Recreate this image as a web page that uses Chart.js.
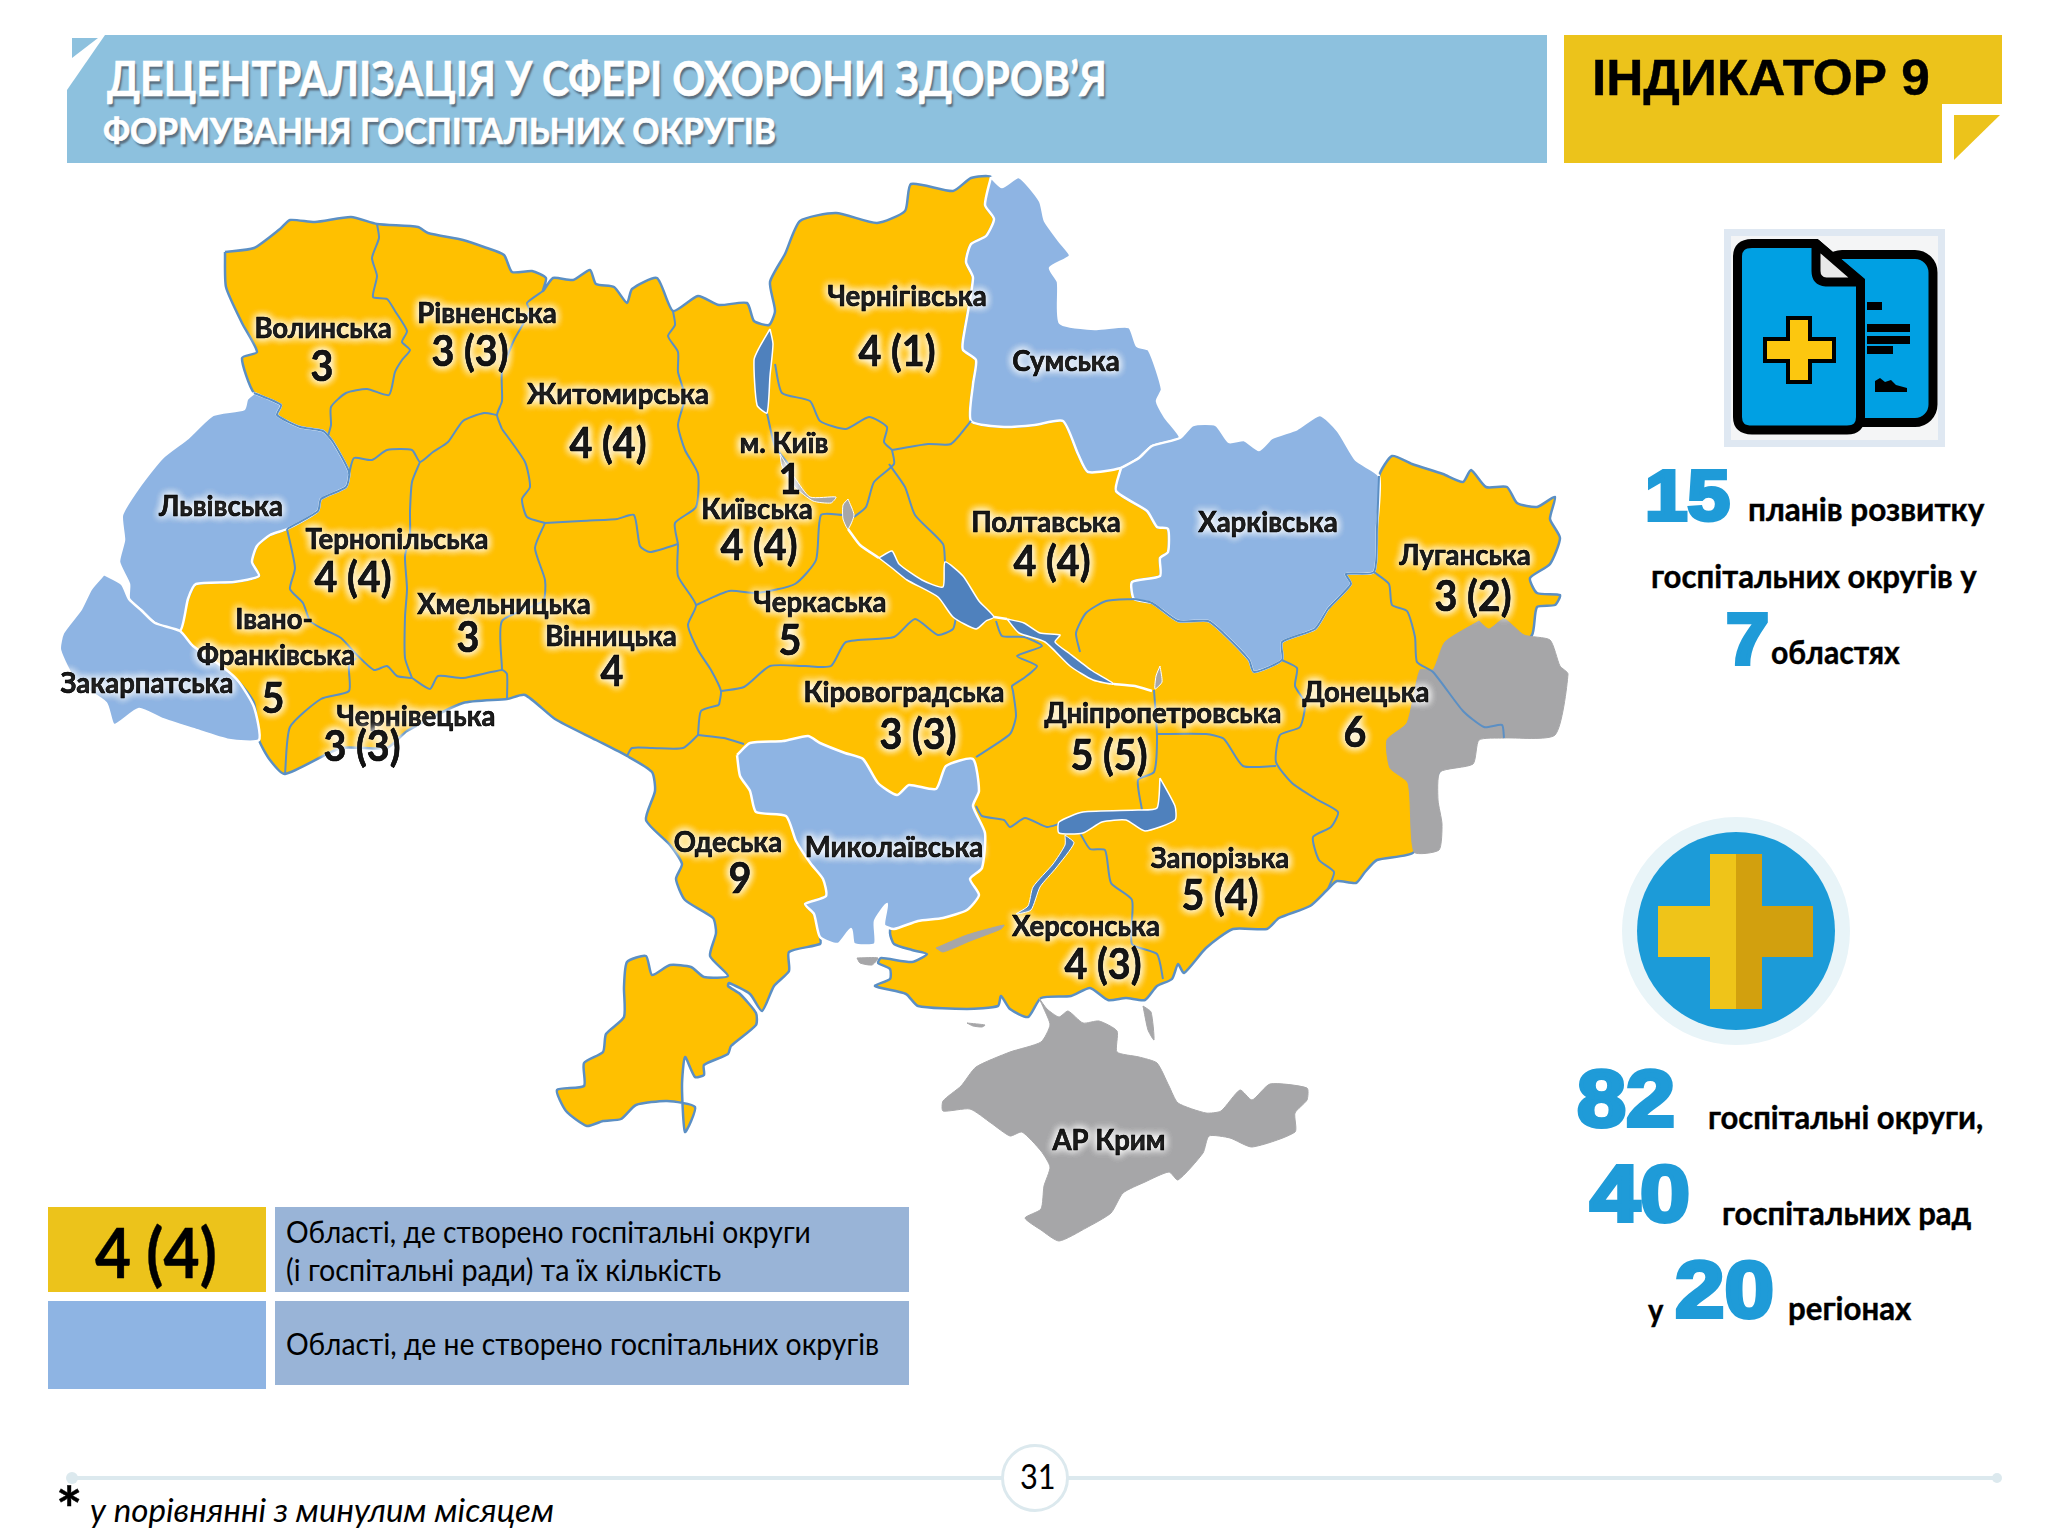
<!DOCTYPE html>
<html lang="uk">
<head>
<meta charset="utf-8">
<title>Індикатор 9</title>
<script src="https://cdn.jsdelivr.net/npm/chart.js@4"></script>
<style>
  html, body { margin: 0; padding: 0; background: #fff; }
  #page { position: relative; width: 2048px; height: 1536px; overflow: hidden; background: #fff; }
  #map { position: absolute; left: 0; top: 0; }
  .box { position: absolute; }
  .t { position: absolute; white-space: nowrap; line-height: 0; height: 0; margin-top: -2px; transform-origin: left center; font-family: Lato, "Open Sans", sans-serif; color: #000; }
  .b { font-weight: 700; -webkit-text-stroke: 0.4px #000; }
  .w { color: #fff; -webkit-text-stroke: 0.6px #fff; text-shadow: 2px 3px 2px #5a6f80; }
  .num { font-family: "Liberation Sans", sans-serif; font-weight: 700; color: #1f9bd8; -webkit-text-stroke: 4px #1f9bd8; }
</style>
</head>
<body>
<div id="page">
  <!-- header -->
  <div class="box" style="left:67px;top:35px;width:1480px;height:128px;background:#8dc1de;clip-path:polygon(38px 0,100% 0,100% 100%,0 100%,0 55px)"></div>
  <div class="box" style="left:72px;top:38px;width:26px;height:20px;background:#8dc1de;clip-path:polygon(0 0,100% 0,0 100%)"></div>
  <div class="t b w" data-w="1000" style="left:107px;top:80px;font-size:48px">ДЕЦЕНТРАЛІЗАЦІЯ У СФЕРІ ОХОРОНИ ЗДОРОВ’Я</div>
  <div class="t b w" data-w="673" style="left:103px;top:132px;font-size:37px">ФОРМУВАННЯ ГОСПІТАЛЬНИХ ОКРУГІВ</div>
  <div class="box" style="left:1564px;top:35px;width:438px;height:128px;background:#ecc31b;clip-path:polygon(0 0,100% 0,100% 54%,86.3% 54%,86.3% 100%,0 100%)"></div>
  <div class="box" style="left:1954px;top:115px;width:46px;height:45px;background:#ecc31b;clip-path:polygon(0 0,100% 0,0 100%)"></div>
  <div class="t b" data-w="338" style="left:1592px;top:80px;font-size:50px;font-family:'Liberation Sans',sans-serif">ІНДИКАТОР 9</div>

  <!-- document icon -->
  <svg class="box" style="left:1724px;top:229px" width="221" height="218" viewBox="0 0 221 218">
    <rect width="221" height="218" fill="#dfe8f2"/>
    <rect x="7" y="7" width="207" height="204" fill="#f4f5f6"/>
    <rect x="100" y="25.5" width="109" height="168" rx="18" fill="#00a0e3" stroke="#000" stroke-width="9"/>
    <path d="M143 77h15M143 99h43M143 111h43M143 121h26" stroke="#000" stroke-width="8"/>
    <path d="M151 163v-11l5-3 5 4 6-2 5 5 11 3v4z" fill="#000"/>
    <path d="M28 14.5H92L136.500 52V188Q136.500 201 123 201H28Q13.500 201 13.500 188V28Q13.500 14.500 28 14.500Z" fill="#00a0e3" stroke="#000" stroke-width="9"/>
    <path d="M92 14.500V42Q92 52 102 53H136.500L92 14.500Z" fill="#e8e8e8" stroke="#000" stroke-width="9" stroke-linejoin="round"/>
    <path d="M64 89h22v21h24v22H86v21H64v-21H41v-22h23z" fill="#fcc70f" stroke="#000" stroke-width="4"/>
  </svg>

  <!-- plans -->
  <div class="t num" data-w="85" style="left:1645px;top:498px;font-size:70px">15</div>
  <div class="t b" data-w="236" style="left:1748px;top:510px;font-size:33px">планів розвитку</div>
  <div class="t b" data-w="326" style="left:1651px;top:577px;font-size:33px">госпітальних округів у</div>
  <div class="t num" data-w="43" style="left:1726px;top:641px;font-size:72px">7</div>
  <div class="t b" data-w="129" style="left:1771px;top:653px;font-size:33px">областях</div>

  <!-- cross icon -->
  <svg class="box" style="left:1620px;top:815px" width="232" height="232" viewBox="0 0 232 232">
    <circle cx="116" cy="116" r="114" fill="#e8f4f8"/>
    <circle cx="116" cy="116" r="99" fill="#1c9bd8"/>
    <path d="M90 39h26v155H90v-52H38V91h52z" fill="#efc419"/>
    <path d="M116 39h26v52h51v51h-51v52h-26z" fill="#d2a00e"/>
  </svg>

  <!-- districts -->
  <div class="t num" data-w="98" style="left:1577px;top:1101px;font-size:80px">82</div>
  <div class="t b" data-w="275" style="left:1708px;top:1118px;font-size:33px">госпітальні округи,</div>
  <div class="t num" data-w="100" style="left:1590px;top:1196px;font-size:80px">40</div>
  <div class="t b" data-w="249" style="left:1722px;top:1214px;font-size:33px">госпітальних рад</div>
  <div class="t b" data-w="15" style="left:1648px;top:1311px;font-size:33px">у</div>
  <div class="t num" data-w="99" style="left:1675px;top:1292px;font-size:80px">20</div>
  <div class="t b" data-w="123" style="left:1788px;top:1309px;font-size:33px">регіонах</div>

  <!-- legend -->
  <div class="box" style="left:48px;top:1207px;width:218px;height:85px;background:#ecc31b"></div>
  <div class="t b" data-w="122" style="left:95px;top:1254px;font-size:68px">4 (4)</div>
  <div class="box" style="left:275px;top:1207px;width:634px;height:85px;background:#99b4d7"></div>
  <div class="t" data-w="525" style="left:286px;top:1233px;font-size:30px">Області, де створено госпітальні округи</div>
  <div class="t" data-w="435" style="left:286px;top:1271px;font-size:30px">(і госпітальні ради) та їх кількість</div>
  <div class="box" style="left:48px;top:1301px;width:218px;height:88px;background:#8eb4e3"></div>
  <div class="box" style="left:275px;top:1301px;width:634px;height:84px;background:#99b4d7"></div>
  <div class="t" data-w="593" style="left:286px;top:1345px;font-size:30px">Області, де не створено госпітальних округів</div>

  <!-- footer -->
  <div class="box" style="left:72px;top:1476px;width:1925px;height:4px;background:#dce9ee"></div>
  <div class="box" style="left:66px;top:1472px;width:12px;height:12px;border-radius:50%;background:#dce9ee"></div>
  <div class="box" style="left:1992px;top:1473px;width:10px;height:10px;border-radius:50%;background:#dce9ee"></div>
  <div class="box" style="left:1001px;top:1444px;width:62px;height:62px;border-radius:50%;background:#fff;border:3px solid #dce9ee"></div>
  <div class="t" data-w="36" style="left:1020px;top:1477px;font-size:35px">31</div>
  <div class="t b" style="left:56px;top:1510px;font-size:62px">*</div>
  <div class="t" data-w="464" style="left:90px;top:1512px;font-size:32px;font-style:italic">у порівнянні з минулим місяцем</div>

  <canvas id="map" width="2048" height="1536"></canvas>
</div>

<script>
// ── Oblast labels: names and hospital district counts (councils in brackets) ──
const nameLabels = ['Волинська', 'Рівненська', 'Житомирська', 'м. Київ', 'Київська', 'Львівська', 'Тернопільська', 'Хмельницька', 'Вінницька', 'Івано-', 'Франківська', 'Закарпатська', 'Чернівецька', 'Черкаська', 'Кіровоградська', 'Дніпропетровська', 'Чернігівська', 'Сумська', 'Полтавська', 'Харківська', 'Луганська', 'Донецька', 'Одеська', 'Миколаївська', 'Запорізька', 'Херсонська', 'АР Крим'];
const nameX = [323, 487, 618, 784, 757, 221, 397, 504, 611, 274, 276, 147, 416, 820, 904, 1163, 907, 1066, 1046, 1268, 1465, 1366, 728, 894, 1220, 1086, 1109];
const nameY = [329, 314, 395, 444, 510, 507, 540, 605, 637, 620, 656, 684, 717, 603, 693, 714, 297, 362, 523, 523, 556, 693, 843, 848, 859, 927, 1141];

const countLabels = ['3', '3 (3)', '4 (4)', '1', '4 (4)', '4 (4)', '3', '4', '5', '3 (3)', '5', '3 (3)', '5 (5)', '4 (1)', '4 (4)', '3 (2)', '6', '9', '5 (4)', '4 (3)'];
const countX = [322, 470, 608, 790, 759, 353, 468, 612, 273, 362, 790, 918, 1109, 897, 1052, 1473, 1355, 740, 1220, 1103];
const countY = [367, 352, 444, 480, 546, 578, 638, 672, 699, 747, 641, 735, 756, 352, 562, 597, 733, 879, 896, 965];

// ── Map outlines, in map units ──
const mainland = [[225,252],[254,248],[280,229],[290,220],[315,222],[351,217],[377,224],[418,227],[428,233],[463,240],[484,247],[504,255],[512,272],[532,271],[546,278],[543,291],[553,278],[573,280],[590,270],[596,284],[614,287],[627,303],[632,289],[657,278],[673,311],[698,296],[719,305],[747,303],[754,321],[769,325],[775,311],[770,282],[785,254],[800,221],[836,213],[877,223],[905,211],[911,184],[953,191],[971,178],[991,177],[985,205],[994,219],[986,236],[971,244],[966,262],[973,278],[963,340],[963,350],[976,360],[973,384],[971,421],[1004,427],[1035,425],[1063,421],[1078,454],[1088,472],[1121,468],[1116,491],[1147,511],[1157,527],[1168,529],[1168,552],[1160,558],[1160,576],[1132,582],[1134,599],[1152,603],[1178,621],[1208,621],[1223,633],[1249,660],[1254,672],[1282,660],[1282,642],[1315,629],[1328,609],[1351,584],[1346,574],[1374,572],[1377,527],[1379,476],[1392,456],[1412,464],[1443,474],[1463,482],[1471,470],[1486,487],[1507,487],[1517,503],[1537,507],[1555,497],[1550,519],[1560,538],[1550,564],[1530,578],[1537,593],[1560,595],[1555,605],[1537,607],[1532,635],[1480,700],[1425,800],[1414,852],[1377,860],[1365,872],[1356,883],[1337,881],[1328,889],[1310,906],[1279,918],[1267,929],[1233,929],[1206,948],[1184,973],[1178,964],[1172,979],[1157,986],[1145,1000],[1126,998],[1108,1000],[1090,988],[1071,996],[1041,998],[1028,1017],[1010,1009],[1001,996],[998,1006],[967,1009],[918,1006],[906,994],[875,986],[890,979],[890,969],[878,963],[881,958],[912,962],[927,954],[912,950],[894,944],[890,933],[892,870],[830,870],[826,896],[805,904],[814,914],[820,937],[820,944],[789,952],[789,971],[774,986],[762,1011],[750,994],[729,983],[728,986],[740,994],[756,1013],[756,1025],[731,1046],[728,1054],[704,1065],[704,1075],[695,1077],[685,1057],[682,1086],[685,1132],[695,1107],[667,1101],[636,1105],[621,1119],[603,1121],[587,1126],[566,1111],[557,1090],[584,1086],[584,1063],[603,1052],[606,1034],[624,1017],[624,987],[627,962],[646,956],[652,975],[670,965],[691,967],[704,977],[728,976],[710,956],[716,933],[713,918],[685,900],[676,879],[682,864],[670,845],[646,820],[655,791],[652,772],[627,756],[596,740],[555,719],[525,695],[507,699],[463,703],[407,731],[387,748],[341,748],[285,774],[270,760],[259,740],[254,703],[239,682],[219,666],[188,646],[180,629],[188,599],[196,584],[234,582],[259,576],[252,562],[257,546],[270,535],[287,529],[318,511],[321,499],[346,487],[349,472],[333,442],[323,431],[300,427],[277,415],[281,405],[254,393],[242,358],[257,352],[242,323],[226,287],[225,252]];

const lvivska = [[254,393],[281,405],[277,415],[300,427],[323,431],[333,442],[349,472],[346,487],[321,499],[318,511],[287,529],[270,535],[257,546],[252,562],[259,576],[234,582],[196,584],[188,599],[180,631],[155,623],[142,611],[129,599],[129,584],[119,562],[124,540],[122,515],[139,487],[162,458],[188,438],[213,415],[244,409],[247,399],[254,393]];
const zakarpatska = [[104,574],[122,584],[129,599],[142,611],[155,623],[180,631],[193,646],[224,668],[239,682],[254,707],[259,740],[229,740],[193,729],[162,719],[139,709],[114,725],[106,703],[76,682],[60,650],[63,633],[81,609],[91,589],[104,574]];
const sumska = [[991,177],[985,205],[994,219],[986,236],[971,244],[966,262],[973,278],[963,340],[963,350],[976,360],[973,384],[971,421],[1004,427],[1035,425],[1063,421],[1078,454],[1088,472],[1121,468],[1139,458],[1152,446],[1180,438],[1165,417],[1157,401],[1162,389],[1149,350],[1137,346],[1129,327],[1096,329],[1060,323],[1058,282],[1050,268],[1070,256],[1060,242],[1045,221],[1040,201],[1019,177],[1002,187],[991,177]];
const kharkivska = [[1121,468],[1139,458],[1152,446],[1180,438],[1193,425],[1216,425],[1229,442],[1244,440],[1259,450],[1272,438],[1297,429],[1320,415],[1338,431],[1356,460],[1379,476],[1377,527],[1374,572],[1346,574],[1351,584],[1328,609],[1315,629],[1282,642],[1282,660],[1254,672],[1249,660],[1223,633],[1208,621],[1178,621],[1152,603],[1134,599],[1132,582],[1160,576],[1160,558],[1168,552],[1168,529],[1157,527],[1147,511],[1116,491],[1121,468]];
const mykolaivska = [[737,755],[750,743],[783,741],[808,736],[820,743],[845,753],[863,759],[878,783],[897,795],[909,785],[936,789],[946,766],[973,759],[979,791],[973,806],[985,833],[982,868],[970,879],[979,895],[967,910],[943,918],[918,921],[894,929],[884,925],[887,904],[875,921],[875,944],[854,944],[851,929],[838,944],[820,937],[814,914],[805,904],[826,896],[823,879],[811,864],[796,841],[786,816],[756,812],[750,791],[740,776],[737,755]];
const occupied = [[1479,621],[1489,629],[1504,619],[1524,635],[1550,640],[1560,666],[1568,674],[1555,735],[1504,738],[1479,740],[1473,764],[1440,772],[1438,800],[1442,824],[1439,850],[1414,852],[1408,783],[1390,768],[1387,740],[1407,723],[1420,670],[1433,670],[1445,642],[1479,621]];
const crimea = [[1039,998],[1047,1009],[1059,1017],[1068,1011],[1083,1023],[1099,1021],[1117,1031],[1117,1052],[1139,1057],[1157,1063],[1169,1086],[1178,1103],[1206,1113],[1221,1111],[1240,1090],[1252,1100],[1270,1084],[1307,1088],[1307,1100],[1295,1113],[1295,1132],[1252,1147],[1230,1138],[1209,1136],[1203,1153],[1178,1180],[1169,1172],[1145,1182],[1123,1193],[1111,1213],[1086,1228],[1059,1241],[1041,1230],[1025,1218],[1041,1209],[1044,1186],[1050,1167],[1041,1151],[1022,1132],[1010,1136],[991,1123],[970,1109],[943,1111],[943,1101],[961,1086],[976,1067],[1010,1052],[1041,1042],[1050,1025],[1044,1009],[1039,998]];
const arabat = [[1143,1006],[1151,1012],[1154,1040],[1148,1030],[1143,1006]];
const estuary = [[936,948],[967,935],[1004,925],[1001,929],[970,941],[943,952],[936,948]];
const kinburn = [[857,958],[878,958],[872,965],[860,963],[857,958]];
const tendra = [[967,1023],[985,1025],[982,1027],[973,1026],[967,1023]];
const kanivTail = [[780,454],[795,478],[810,497],[836,497],[831,503],[813,501],[795,487],[782,466],[780,454]];
const kanivDrop = [[848,499],[854,515],[848,529],[843,519],[843,505],[848,499]];
const zaporizhDrop = [[1160,666],[1162,682],[1155,689],[1156,676],[1160,666]];

const kyivLake = [[770,329],[773,344],[770,376],[767,413],[757,405],[754,360],[759,348],[770,329]];
const kremenchukLake = [[879,558],[892,551],[899,564],[922,580],[943,587],[945,562],[963,576],[979,601],[994,617],[986,621],[976,629],[953,617],[938,597],[907,580],[892,568],[879,558]];
const kamianskeLake = [[1007,619],[1024,623],[1040,633],[1060,635],[1055,642],[1070,654],[1091,670],[1114,684],[1093,680],[1070,666],[1045,642],[1019,633],[1007,619]];
const kakhovkaLake = [[1160,778],[1175,806],[1175,820],[1145,831],[1126,820],[1102,822],[1083,833],[1059,833],[1059,822],[1083,812],[1138,810],[1157,808],[1160,778]];
const lowerDnipro = [[1065,835],[1074,843],[1056,868],[1040,887],[1031,910],[1016,914],[1028,906],[1033,887],[1053,864],[1065,845],[1065,835]];
const dniproLink = [[848,529],[860,545],[879,558]];
const dniproLink2 = [[994,617],[1007,619]];
const dniproLink3 = [[1114,684],[1135,686],[1152,691]];

// ── Oblast borders ──
const volynRivne = [[377,224],[379,238],[372,258],[377,276],[373,297],[387,299],[395,311],[407,331],[402,342],[410,350],[402,360],[395,372],[389,395],[367,389],[346,393],[331,407],[331,425],[328,436]];
const rivneZhytomyr = [[543,291],[527,303],[530,311],[514,340],[502,372],[502,401],[497,415],[502,429]];
const rivneSouth = [[497,415],[484,413],[463,421],[448,442],[433,452],[420,462],[412,450],[387,450],[372,460],[354,458],[349,474]];
const ternopilKhmelnytsk = [[420,462],[412,482],[410,511],[410,535],[405,556],[407,589],[405,617],[405,658],[412,678]];
const khmelnytskZhytomyr = [[502,429],[525,462],[530,487],[522,499],[527,517],[545,523]];
const zhytomyrVinnytsia = [[545,523],[581,521],[617,519],[634,515],[640,546],[650,552],[678,544]];
const zhytomyrKyiv = [[673,311],[675,325],[668,336],[678,352],[678,372],[685,397],[678,425],[685,450],[698,474],[696,507],[675,523],[678,544]];
const khmelnytskVinnytsia = [[545,523],[535,548],[545,580],[543,601],[502,621],[502,670]];
const khmelnytskChernivtsi = [[412,678],[430,689],[438,676],[463,678],[502,670],[507,674],[507,699]];
const ternopilIvano = [[287,529],[295,568],[290,589],[303,603],[310,621],[323,629],[341,638],[356,654],[374,670],[387,666],[397,676],[412,678]];
const ivanoChernivtsi = [[356,658],[349,666],[349,691],[321,699],[290,727],[285,774]];
const vinnytsiaCherkasy = [[678,544],[678,576],[696,605],[688,625],[698,650],[711,670],[721,691],[719,705]];
const vinnytsiaKirovohrad = [[719,705],[701,711],[698,735]];
const vinnytsiaOdesa = [[698,735],[683,748],[652,748],[632,748],[627,756]];
const kirovohradOdesa = [[698,735],[724,738],[744,744]];
const kirovohradCherkasy = [[721,691],[744,687],[770,666],[805,666],[831,666],[846,642],[894,637],[915,619],[938,635],[953,629],[956,617]];
const cherkasyKyiv = [[696,605],[729,591],[757,593],[795,584],[816,560],[821,515],[843,515]];
const kyivChernihiv = [[775,364],[782,393],[810,401],[820,421],[846,429],[869,417],[887,427],[884,442],[892,450]];
const chernihivPoltava = [[892,450],[928,444],[951,444],[971,421]];
const kyivPoltava = [[892,450],[894,464],[874,482],[866,507],[854,517]];
const poltavaCherkasy = [[889,464],[905,487],[915,515],[943,544],[945,562]];
const kyivRiver = [[767,413],[775,446],[790,466]];
const kirovohradDnipro = [[996,621],[1002,636],[1024,637],[1042,646],[1017,656],[1037,666],[1024,678],[1012,686],[1013,691],[1016,716],[1010,734],[976,757]];
const poltavaDnipro = [[1134,599],[1106,601],[1086,613],[1076,633],[1080,652]];
const dniproDonetsk = [[1282,660],[1297,668],[1295,686],[1305,703],[1300,727],[1280,735],[1276,762],[1292,783],[1316,799],[1338,812],[1331,827],[1313,837],[1319,860],[1334,872],[1328,889]];
const dniproZaporizhia = [[1157,734],[1206,734],[1224,739],[1243,766],[1276,766]];
const dniproRiver = [[1154,690],[1157,737],[1154,772],[1138,780],[1142,810]];
const luhanskDonetsk = [[1374,572],[1389,584],[1392,605],[1407,611],[1415,637],[1417,662],[1433,672],[1463,711],[1484,727],[1502,725],[1504,738]];
const dniproKherson = [[976,806],[982,816],[1004,820],[1010,827],[1025,818],[1047,827],[1059,824]];
const khersonZaporizhia = [[1080,833],[1090,849],[1105,850],[1111,883],[1132,900],[1132,944],[1157,954],[1163,979]];
const kharkivBorder = [[1134,599],[1152,603],[1178,621],[1208,621],[1223,633],[1249,660],[1254,672],[1282,660],[1282,642],[1315,629],[1328,609],[1351,584],[1346,574],[1374,572],[1377,527],[1379,476]];
const lvivBorder = [[254,393],[281,405],[277,415],[300,427],[323,431],[333,442],[349,472],[346,487],[321,499],[318,511],[287,529]];

const orangeColor = '#ffc000';
const blueColor = '#8eb4e3';
const greyColor = '#a6a6a8';
const lakeColor = '#4f81bd';
const borderColor = '#5b8fc4';

const innerBorders = [volynRivne, rivneZhytomyr, rivneSouth, ternopilKhmelnytsk, khmelnytskZhytomyr, zhytomyrVinnytsia, zhytomyrKyiv, khmelnytskVinnytsia, khmelnytskChernivtsi, ternopilIvano, ivanoChernivtsi, vinnytsiaCherkasy, vinnytsiaKirovohrad, vinnytsiaOdesa, kirovohradOdesa, kirovohradCherkasy, cherkasyKyiv, kyivChernihiv, chernihivPoltava, kyivPoltava, poltavaCherkasy, kyivRiver, kirovohradDnipro, poltavaDnipro, dniproDonetsk, dniproZaporizhia, dniproRiver, luhanskDonetsk, dniproKherson, khersonZaporizhia, kharkivBorder, lvivBorder];

// ── Helpers ──
const area = (pts, fillColor, lineColor, width) => ({
  data: pts.map(([x, y]) => ({ x, y })),
  showLine: true, pointRadius: 0, tension: 0.2,
  polyFill: fillColor, borderColor: lineColor, borderWidth: width,
});
const line = (pts, lineColor, width) => area(pts, null, lineColor, width);

// paint order: first entry goes at the bottom
const layers = [
  area(mainland, orangeColor, borderColor, 2.5),
  area(lvivska, blueColor, '#fff', 2.5),
  area(zakarpatska, blueColor, '#fff', 2.5),
  area(sumska, blueColor, '#fff', 2.5),
  area(kharkivska, blueColor, '#fff', 2.5),
  area(mykolaivska, blueColor, '#fff', 2.5),
  area(occupied, greyColor, greyColor, 1),
  area(crimea, greyColor, greyColor, 1),
  area(arabat, greyColor, greyColor, 1),
  area(estuary, greyColor, greyColor, 1),
  area(kinburn, greyColor, greyColor, 1),
  area(tendra, greyColor, greyColor, 1),
  ...innerBorders.map(b => line(b, borderColor, 2)),
  line(dniproLink, '#fff', 2.5),
  line(dniproLink2, '#fff', 2.5),
  line(dniproLink3, '#fff', 2.5),
  area(kanivTail, greyColor, '#fff', 1),
  area(kanivDrop, greyColor, '#fff', 1),
  area(zaporizhDrop, greyColor, '#fff', 1),
  area(kyivLake, lakeColor, '#fff', 1.5),
  area(kremenchukLake, lakeColor, '#fff', 1.5),
  area(kamianskeLake, lakeColor, '#fff', 1.5),
  area(kakhovkaLake, lakeColor, '#fff', 1.5),
  area(lowerDnipro, lakeColor, '#fff', 1),
];
layers.forEach((d, i) => { d.order = layers.length - i; });

// ── Plugins ──
// a line dataset only fills to an axis, so close the path by hand
const polygonFill = {
  id: 'polygonFill',
  beforeDatasetDraw(chart, args) {
    const ds = chart.data.datasets[args.index];
    if (!ds.polyFill) return;
    const ctx = chart.ctx;
    ctx.save();
    ctx.beginPath();
    args.meta.dataset.path(ctx);
    ctx.closePath();
    ctx.fillStyle = ds.polyFill;
    ctx.fill();
    ctx.restore();
  },
};

const LABEL_FONT = 'Lato, "Open Sans", sans-serif';
function glowText(chart, text, vx, vy, size, squeeze) {
  const ctx = chart.ctx;
  const x = chart.scales.x.getPixelForValue(vx);
  const y = chart.scales.y.getPixelForValue(vy);
  ctx.save();
  ctx.font = `700 ${size}px ${LABEL_FONT}`;
  ctx.textAlign = 'center';
  ctx.textBaseline = 'middle';
  ctx.shadowColor = 'rgba(255,255,255,0.95)';
  ctx.shadowBlur = 8;
  ctx.fillStyle = '#000';
  ctx.strokeStyle = '#000';
  ctx.lineWidth = 0.5;
  ctx.translate(x, y);
  ctx.scale(squeeze, 1);
  ctx.fillText(text, 0, 0);
  ctx.fillText(text, 0, 0);
  ctx.fillText(text, 0, 0);
  ctx.strokeText(text, 0, 0);
  ctx.restore();
}

const mapLabels = {
  id: 'mapLabels',
  afterDatasetsDraw(chart) {
    nameLabels.forEach((s, i) => glowText(chart, s, nameX[i], nameY[i], 29, 0.95));
    countLabels.forEach((s, i) => glowText(chart, s, countX[i], countY[i], 42, 0.94));
  },
};

new Chart(document.getElementById('map'), {
  type: 'scatter',
  data: { datasets: layers },
  plugins: [polygonFill, mapLabels],
  options: {
    responsive: false, animation: false, events: [],
    layout: { padding: 0 },
    plugins: { legend: { display: false }, tooltip: { enabled: false } },
    scales: {
      x: { type: 'linear', min: 0, max: 2048, display: false },
      y: { type: 'linear', min: 0, max: 1536, reverse: true, display: false },
    },
  },
});

// squeeze the panel texts to the widths in the layout
document.querySelectorAll('.t[data-w]').forEach(el => {
  el.style.transform = `scaleX(${el.dataset.w / el.offsetWidth})`;
});
</script>
</body>
</html>
